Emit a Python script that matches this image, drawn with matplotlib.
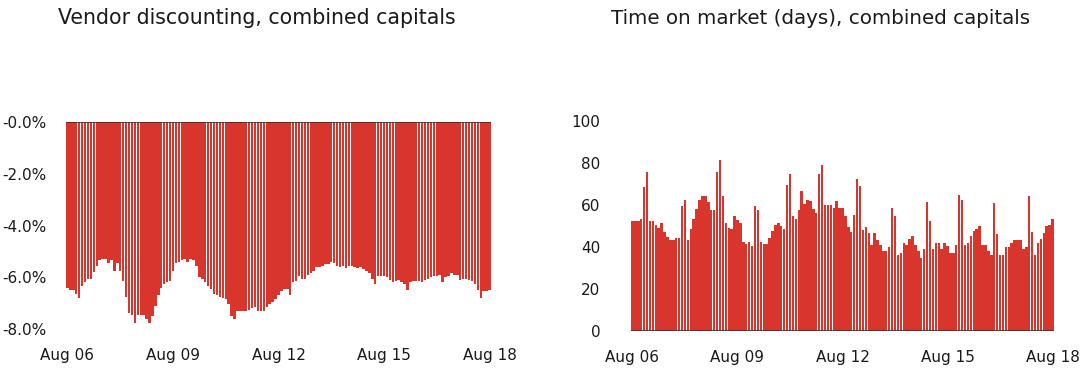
import numpy as np
import pandas as pd
import matplotlib
matplotlib.use("Agg")
from matplotlib import pyplot as plt

# monthly, Aug 2006 .. Aug 2018
months = pd.date_range("2006-08-01", "2018-08-01", freq="MS")

# vendor discounting (%), negative values
discount = -np.array([
    6.4, 6.5, 6.5, 6.65, 6.8, 6.35, 6.2, 6.05, 6.05, 5.8,
    5.55, 5.35, 5.3, 5.3, 5.45, 5.35, 5.75, 5.45, 5.75, 6.15,
    6.75, 7.4, 7.45, 7.75, 7.45, 7.45, 7.45, 7.6, 7.75, 7.5,
    7.1, 6.7, 6.4, 6.25, 6.2, 6.15, 5.75, 5.45, 5.4, 5.35,
    5.3, 5.4, 5.3, 5.35, 5.55, 6.0, 6.05, 6.2, 6.35, 6.45,
    6.65, 6.7, 6.75, 6.8, 6.85, 7.05, 7.5, 7.6, 7.3, 7.3,
    7.3, 7.3, 7.25, 7.2, 7.15, 7.3, 7.3, 7.3, 7.15, 7.05,
    6.95, 6.85, 6.7, 6.55, 6.45, 6.45, 6.7, 6.2, 6.15, 5.95,
    6.05, 6.05, 5.9, 5.85, 5.75, 5.6, 5.6, 5.55, 5.5, 5.5,
    5.42, 5.45, 5.55, 5.6, 5.55, 5.65, 5.55, 5.55, 5.6, 5.65,
    5.6, 5.7, 5.75, 5.85, 6.05, 6.25, 5.95, 5.95, 5.95, 6.0,
    6.1, 6.2, 6.15, 6.1, 6.2, 6.25, 6.5, 6.2, 6.15, 6.15,
    6.15, 6.2, 6.1, 6.05, 6.0, 5.95, 5.95, 5.9, 6.2, 6.0,
    5.95, 5.85, 5.9, 5.9, 6.1, 6.05, 6.05, 6.1, 6.15, 6.25,
    6.5, 6.8, 6.55, 6.55, 6.5,
])

# time on market (days)
days = np.array([
    52.4, 52.4, 52.4, 53.5, 68.6, 75.7, 52.4, 52.4, 50.3, 49.2,
    51.4, 47.0, 44.8, 43.5, 43.5, 44.4, 44.4, 59.4, 62.5, 43.5,
    48.7, 53.5, 58.3, 62.2, 64.1, 64.1, 61.4, 57.5, 57.5, 75.7,
    81.6, 64.1, 51.4, 49.2, 48.7, 54.6, 52.7, 51.4, 42.4, 41.6,
    42.4, 40.3, 59.4, 57.8, 42.4, 41.3, 41.3, 44.4, 47.5, 50.3,
    51.4, 49.8, 48.7, 69.4, 74.6, 55.0, 53.5, 57.8, 66.7, 60.6,
    62.5, 61.9, 58.3, 56.2, 74.6, 78.9, 60.2, 60.2, 60.2, 58.6,
    61.7, 58.6, 58.6, 55.0, 49.5, 47.1, 55.4, 72.2, 69.0, 48.3,
    49.5, 46.8, 40.8, 46.8, 43.2, 41.1, 37.9, 37.9, 40.0, 58.6,
    54.8, 36.3, 37.3, 42.0, 41.1, 43.7, 45.2, 40.8, 37.9, 34.8,
    39.2, 61.4, 52.2, 39.2, 42.0, 42.0, 39.2, 42.0, 40.5, 37.3,
    37.3, 41.1, 64.9, 62.2, 40.8, 42.0, 45.2, 47.5, 48.4, 50.0,
    40.8, 40.8, 37.9, 36.3, 61.1, 46.3, 36.3, 36.3, 40.0, 40.0,
    42.0, 43.2, 43.2, 43.2, 38.9, 40.0, 64.3, 47.1, 36.3, 42.0,
    43.7, 46.8, 50.0, 50.6, 53.2,
])

tick_pos = [0, 36, 72, 108, 144]
tick_labels = [months[i].strftime("Aug %y") for i in tick_pos]

bar_color = "#d8362c"
text_color = "#1a1a1a"

plt.rcParams["font.family"] = ["DejaVu Sans"]
fig = plt.figure(figsize=(10.85, 3.78), dpi=100)

x = np.arange(len(months))

# left: vendor discounting
ax1 = fig.add_axes([66 / 1085, 1 - 329 / 378, 425 / 1085, 207 / 378])
ax1.bar(x, discount, width=0.84, color=bar_color, linewidth=0)
ax1.axhline(0, color="#333333", linewidth=1.2)
ax1.set_ylim(-8, 0)
ax1.set_xlim(-0.5, len(x) - 0.5)
ax1.set_yticks([0, -2, -4, -6, -8])
ax1.set_yticklabels(["-0.0%", "-2.0%", "-4.0%", "-6.0%", "-8.0%"])
ax1.set_xticks(tick_pos)
ax1.set_xticklabels(tick_labels)
ax1.tick_params(axis="y", length=0, pad=14, labelsize=11, colors=text_color)
ax1.tick_params(axis="x", length=0, pad=14, labelsize=11, colors=text_color)
for s in ax1.spines.values():
    s.set_visible(False)

# right: time on market
ax2 = fig.add_axes([631 / 1085, 1 - 331 / 378, 423 / 1085, 210 / 378])
ax2.bar(x, days, width=0.84, color=bar_color, linewidth=0)
ax2.axhline(0, color="#333333", linewidth=1.2)
ax2.set_ylim(0, 100)
ax2.set_xlim(-0.5, len(x) - 0.5)
ax2.set_yticks([0, 20, 40, 60, 80, 100])
ax2.set_xticks(tick_pos)
ax2.set_xticklabels(tick_labels)
ax2.tick_params(axis="y", length=0, pad=22, labelsize=11, colors=text_color)
ax2.tick_params(axis="x", length=0, pad=14, labelsize=11, colors=text_color)
for s in ax2.spines.values():
    s.set_visible(False)

fig.text(257 / 1085, 1 - 18 / 378, "Vendor discounting, combined capitals",
         ha="center", va="center", fontsize=14.8, color=text_color)
fig.text(821 / 1085, 1 - 18 / 378, "Time on market (days), combined capitals",
         ha="center", va="center", fontsize=14.3, color=text_color)

fig.savefig("out.png", dpi=100, facecolor="white")
